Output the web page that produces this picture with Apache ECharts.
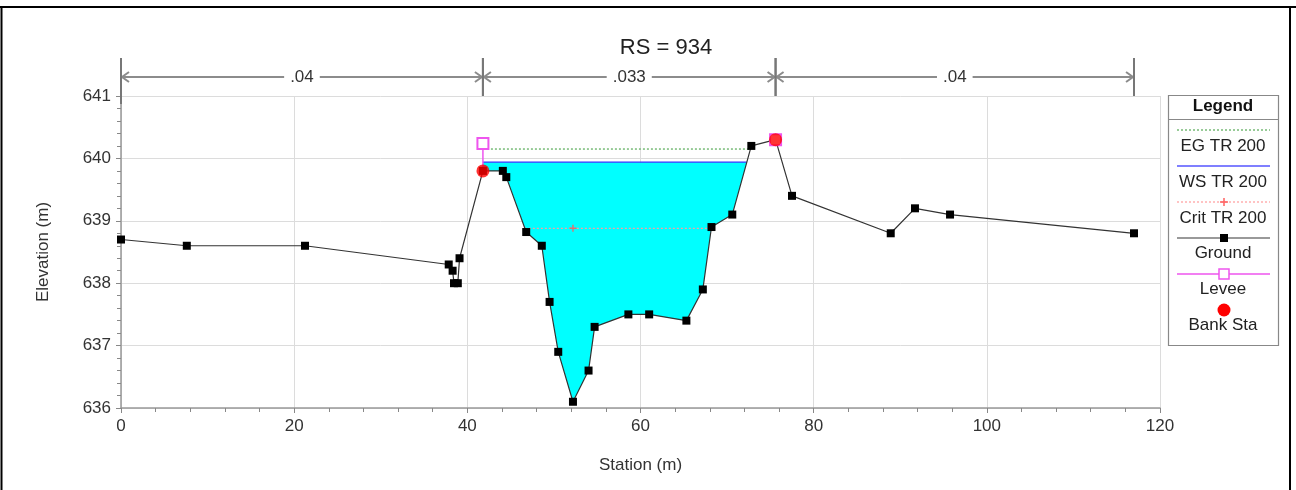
<!DOCTYPE html>
<html><head><meta charset="utf-8">
<script src="https://cdn.jsdelivr.net/npm/echarts@6/dist/echarts.min.js"></script>
<style>html,body{margin:0;padding:0;background:#fff}#c{width:1296px;height:490px}</style>
</head><body><div id="c"></div>
<script>
// ---------- data ----------
const groundStation = [0, 7.6, 21.25, 37.85, 38.3, 38.46, 38.9, 39.1, 41.8, 44.1, 44.5, 46.8, 48.6, 49.5, 50.5, 52.2, 54.0, 54.7, 58.6, 61.0, 65.3, 67.2, 68.2, 70.6, 72.8, 75.6, 77.5, 88.9, 91.7, 95.75, 117.0];
const groundElev    = [638.7, 638.6, 638.6, 638.3, 638.2, 638.0, 638.0, 638.4, 639.8, 639.8, 639.7, 638.82, 638.6, 637.7, 636.9, 636.1, 636.6, 637.3, 637.5, 637.5, 637.4, 637.9, 638.9, 639.1, 640.2, 640.3, 639.4, 638.8, 639.2, 639.1, 638.8];
const bankStation = [41.8, 75.6];
const bankElev    = [639.8, 640.3];
const leveeStation = [41.8, 75.6];
const leveeElev    = [640.24, 640.3];
const wsElev   = 639.94;   // WS TR 200
const egElev   = 640.15;   // EG TR 200
const critElev = 638.88;   // Crit TR 200
const nBreaks = [0, 41.8, 75.6, 117.0];
const nValues = ['.04', '.033', '.04'];
const xMin = 0, xMax = 120, xStep = 20;
const yMin = 636, yMax = 641, yStep = 1;
const legendNames = ['EG TR 200', 'WS TR 200', 'Crit TR 200', 'Ground', 'Levee', 'Bank Sta'];

// ---------- helpers ----------
const FONT = "'Liberation Sans', Arial, sans-serif";
const FS = 17;
const ground = groundStation.map((s, i) => [s, groundElev[i]]);
let thalweg = 0;
groundElev.forEach((e, i) => { if (e < groundElev[thalweg]) thalweg = i; });
const leftLimit = leveeStation[0], rightLimit = leveeStation[1];
function extent(e) {
  let lx = leftLimit;
  for (let i = thalweg; i > 0; i--) {
    const [s0, e0] = ground[i - 1], [s1, e1] = ground[i];
    if (s0 < leftLimit) { lx = leftLimit; break; }
    if (e0 >= e) { lx = s0 + (e - e0) / (e1 - e0) * (s1 - s0); break; }
  }
  let rx = rightLimit;
  for (let i = thalweg; i < ground.length - 1; i++) {
    const [s0, e0] = ground[i], [s1, e1] = ground[i + 1];
    if (s1 > rightLimit) { rx = rightLimit; break; }
    if (e1 >= e) { rx = s0 + (e - e0) / (e1 - e0) * (s1 - s0); break; }
  }
  return [lx, rx];
}
const wsExt = extent(wsElev), egExt = extent(egElev), critExt = extent(critElev);
const waterPoly = [[wsExt[0], wsElev]]
  .concat(ground.filter(p => p[0] >= wsExt[0] && p[0] <= wsExt[1]))
  .concat([[wsExt[1], wsElev]]);

const chart = echarts.init(document.getElementById('c'));
const plusPath = 'path://M4,0H6V4H10V6H6V10H4V6H0V4H4Z';
const legText = (t, y) => ({ type: 'text', x: 1223, y: y, style: { text: t, fontSize: FS, fontFamily: FONT, fill: '#222', align: 'center', verticalAlign: 'middle' } });

const option = {
  animation: false,
  backgroundColor: '#fff',
  textStyle: { fontFamily: FONT },
  title: { text: 'RS = 934', left: 661, textAlign: 'center', top: 32, textStyle: { fontFamily: FONT, fontSize: 22, fontWeight: 'normal', color: '#222' } },
  grid: { left: 121, right: 136, top: 96, bottom: 82 },
  xAxis: {
    type: 'value', min: xMin, max: xMax, interval: xStep,
    name: 'Station (m)', nameLocation: 'middle', nameGap: 49,
    nameTextStyle: { fontSize: FS, color: '#333', fontFamily: FONT },
    axisLine: { lineStyle: { color: '#999', width: 1.5 } },
    axisTick: { show: true, length: 5, lineStyle: { color: '#888' } },
    minorTick: { show: true, splitNumber: 5, length: 4, lineStyle: { color: '#888' } },
    splitLine: { show: true, lineStyle: { color: '#dcdcdc' } },
    axisLabel: { fontSize: FS, color: '#333', margin: 10, fontFamily: FONT }
  },
  yAxis: {
    type: 'value', min: yMin, max: yMax, interval: yStep,
    name: 'Elevation (m)', nameLocation: 'middle', nameGap: 69, nameRotate: 90,
    nameTextStyle: { fontSize: FS, color: '#333', fontFamily: FONT },
    axisLine: { show: true, lineStyle: { color: '#999', width: 1.5 } },
    axisTick: { show: true, length: 5, lineStyle: { color: '#888' } },
    minorTick: { show: true, splitNumber: 5, length: 4, lineStyle: { color: '#888' } },
    splitLine: { show: true, lineStyle: { color: '#dcdcdc' } },
    axisLabel: { fontSize: FS, color: '#333', margin: 10, fontFamily: FONT }
  },
  series: [
    {
      type: 'custom', name: 'water', z: 1, silent: true,
      data: [0],
      renderItem: (params, api) => ({
        type: 'polygon',
        shape: { points: waterPoly.map(p => api.coord(p)) },
        style: { fill: '#00ffff', stroke: 'none' }
      })
    },
    { name: 'EG TR 200', type: 'line', z: 3, symbol: 'none',
      data: [[egExt[0], egElev], [egExt[1], egElev]],
      lineStyle: { color: '#77bb77', width: 1.5, type: [2, 2] } },
    { name: 'WS TR 200', type: 'line', z: 3, symbol: 'none',
      data: [[wsExt[0], wsElev], [wsExt[1], wsElev]],
      lineStyle: { color: '#3333ff', width: 1.2 } },
    { name: 'Crit TR 200', type: 'line', z: 3, symbol: 'none',
      data: [[critExt[0], critElev], { value: [groundStation[thalweg], critElev], symbol: plusPath, symbolSize: 7 }, [critExt[1], critElev]],
      itemStyle: { color: '#e07070' },
      lineStyle: { color: '#ff9a9a', width: 1.2, type: [2, 2] } },
    { name: 'Ground', type: 'line', z: 4, symbol: 'rect', symbolSize: 8,
      data: ground,
      itemStyle: { color: '#000' },
      lineStyle: { color: '#333', width: 1.2 } },
    { name: 'Levee', type: 'line', z: 5, symbol: 'emptyRect', symbolSize: 11,
      data: leveeStation.map((s, i) => [s, leveeElev[i]]),
      itemStyle: { color: '#ee55ee', borderWidth: 1.5 },
      lineStyle: { width: 0, opacity: 0 } },
    { name: 'levee wall', type: 'custom', z: 4, silent: true,
      data: leveeStation.map((s, i) => [s, leveeElev[i], bankElev[i]]),
      renderItem: (params, api) => {
        const a = api.coord([api.value(0), api.value(1)]);
        const b = api.coord([api.value(0), api.value(2)]);
        return { type: 'line', shape: { x1: a[0], y1: a[1], x2: b[0], y2: b[1] }, style: { stroke: '#ee55ee', lineWidth: 1.5 } };
      } },
    { name: 'Bank Sta', type: 'scatter', z: 6, symbol: 'circle', symbolSize: 13,
      data: bankStation.map((s, i) => [s, bankElev[i]]),
      itemStyle: { color: '#ff0000' } },
    {
      name: 'n', type: 'custom', z: 2, silent: true, clip: false,
      data: nValues.map((v, i) => [nBreaks[i], nBreaks[i + 1], i]),
      renderItem: (params, api) => {
        const a = api.coord([api.value(0), yMax]);
        const b = api.coord([api.value(1), yMax]);
        const y = a[1] - 19, top = a[1] - 38;
        const col = '#8c8c8c';
        const st = { stroke: col, lineWidth: 2, fill: 'none' };
        const idx = api.value(2);
        return { type: 'group', children: [
          { type: 'line', shape: { x1: a[0], y1: y, x2: b[0], y2: y }, style: st },
          { type: 'polyline', shape: { points: [[a[0] + 8, y - 5], [a[0] + 1, y], [a[0] + 8, y + 5]] }, style: st },
          { type: 'polyline', shape: { points: [[b[0] - 8, y - 5], [b[0] - 1, y], [b[0] - 8, y + 5]] }, style: st },
          { type: 'line', shape: { x1: a[0], y1: top, x2: a[0], y2: a[1] + (idx === 0 ? 8 : 0) }, style: { stroke: '#777', lineWidth: 2 } },
          { type: 'line', shape: { x1: b[0], y1: top, x2: b[0], y2: a[1] }, style: { stroke: '#777', lineWidth: 2 } },
          { type: 'text', x: (a[0] + b[0]) / 2, y: y,
            style: { text: nValues[idx], fontSize: FS, fontFamily: FONT, fill: '#333', align: 'center', verticalAlign: 'middle', backgroundColor: '#fff', padding: [2, 6] } }
        ] };
      }
    }
  ],
  graphic: [
    { type: 'line', shape: { x1: 0, y1: 7, x2: 1296, y2: 7 }, style: { stroke: '#000', lineWidth: 2 } },
    { type: 'line', shape: { x1: 1.5, y1: 7, x2: 1.5, y2: 490 }, style: { stroke: '#000', lineWidth: 2 } },
    { type: 'line', shape: { x1: 1290, y1: 7, x2: 1290, y2: 490 }, style: { stroke: '#000', lineWidth: 2 } },
    { type: 'rect', shape: { x: 1168.5, y: 95.5, width: 110, height: 250 }, style: { fill: '#fff', stroke: '#888', lineWidth: 1.2 } },
    { type: 'line', shape: { x1: 1168.5, y1: 119.5, x2: 1278.5, y2: 119.5 }, style: { stroke: '#888', lineWidth: 1.2 } },
    { type: 'text', x: 1223, y: 106, style: { text: 'Legend', fontSize: FS, fontWeight: 'bold', fontFamily: FONT, fill: '#111', align: 'center', verticalAlign: 'middle' } },
    { type: 'line', shape: { x1: 1177, y1: 130, x2: 1270, y2: 130 }, style: { stroke: '#77bb77', lineWidth: 1.5, lineDash: [2, 2] } },
    legText(legendNames[0], 146),
    { type: 'line', shape: { x1: 1177, y1: 166, x2: 1270, y2: 166 }, style: { stroke: '#5555ff', lineWidth: 1.5 } },
    legText(legendNames[1], 182),
    { type: 'line', shape: { x1: 1177, y1: 202, x2: 1270, y2: 202 }, style: { stroke: '#ffb0b0', lineWidth: 1.5, lineDash: [2, 2] } },
    { type: 'line', shape: { x1: 1224, y1: 198, x2: 1224, y2: 206 }, style: { stroke: '#ff6060', lineWidth: 1.5 } },
    { type: 'line', shape: { x1: 1220, y1: 202, x2: 1228, y2: 202 }, style: { stroke: '#ff6060', lineWidth: 1.5 } },
    legText(legendNames[2], 218),
    { type: 'line', shape: { x1: 1177, y1: 238, x2: 1270, y2: 238 }, style: { stroke: '#999', lineWidth: 2 } },
    { type: 'rect', shape: { x: 1220, y: 234, width: 8, height: 8 }, style: { fill: '#000' } },
    legText(legendNames[3], 253),
    { type: 'line', shape: { x1: 1177, y1: 274, x2: 1270, y2: 274 }, style: { stroke: '#ee55ee', lineWidth: 1.5 } },
    { type: 'rect', shape: { x: 1219, y: 269, width: 10, height: 10 }, style: { fill: '#fff', stroke: '#ee55ee', lineWidth: 1.5 } },
    legText(legendNames[4], 289),
    { type: 'circle', shape: { cx: 1224, cy: 310, r: 6.5 }, style: { fill: '#ff0000' } },
    legText(legendNames[5], 325)
  ]
};
chart.setOption(option);
</script>
</body></html>
